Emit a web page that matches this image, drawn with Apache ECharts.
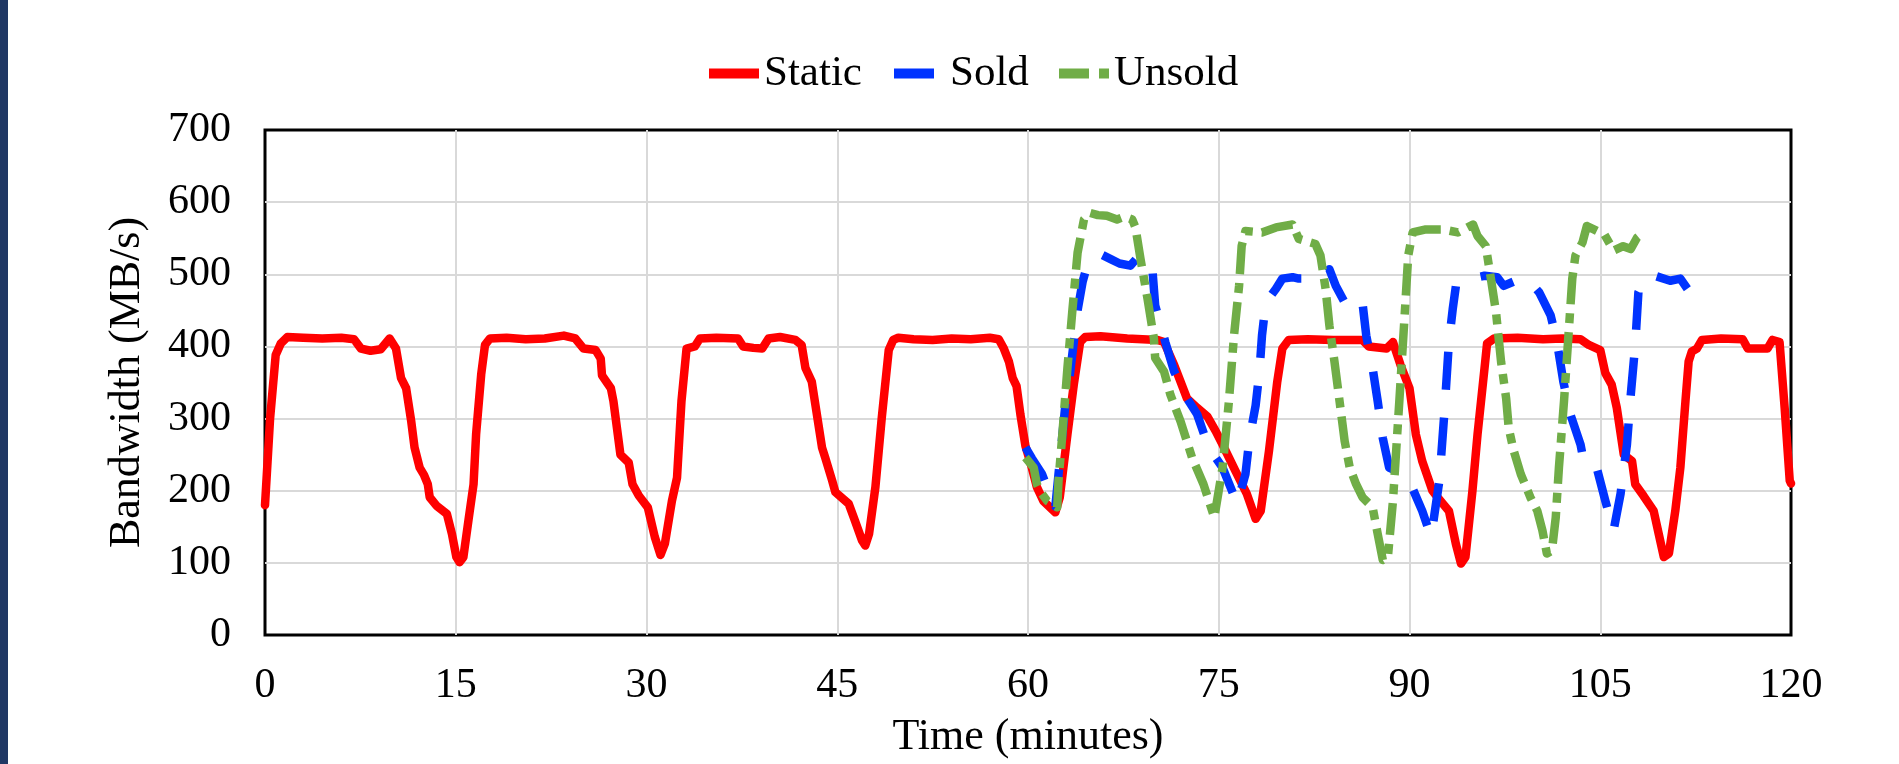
<!DOCTYPE html>
<html>
<head>
<meta charset="utf-8">
<script src="https://cdn.jsdelivr.net/npm/echarts@6/dist/echarts.min.js"></script>
<style>
  html, body { margin: 0; padding: 0; background: #fff; }
  #chart { width: 1899px; height: 764px; }
</style>
</head>
<body>
<div id="chart"></div>
<script>
// values (minutes, MB/s)
const staticTime = [0, 0.4, 0.84, 1.24, 1.76, 3, 4.5, 6, 7.0, 7.55, 8.3, 9.1, 9.8, 10.3, 10.7, 11.1, 11.5, 11.76, 12.16, 12.5, 12.8, 12.95, 13.5, 14.3, 14.7, 15.05, 15.3, 15.6, 16.0, 16.4, 16.6, 17.0, 17.3, 17.7, 19, 20.5, 22, 23.5, 24.4, 25.05, 26.0, 26.4, 26.5, 27.2, 27.4, 27.95, 28.6, 28.9, 29.4, 30.1, 30.65, 31.1, 31.45, 32.0, 32.4, 32.75, 33.15, 33.8, 34.2, 35.5, 37.2, 37.6, 38.4, 39.1, 39.6, 40.5, 41.7, 42.2, 42.5, 43.0, 43.8, 44.05, 44.6, 44.85, 45.9, 46.3, 46.95, 47.2, 47.5, 48.0, 48.5, 49.05, 49.4, 49.8, 51, 52.5, 54, 55.5, 57.0, 57.7, 58.1, 58.5, 58.8, 59.1, 59.4, 59.8, 60.3, 60.7, 61.2, 62.15, 62.5, 63.1, 63.6, 64.1, 64.5, 65.7, 67.8, 70.2, 70.7, 71.5, 72.5, 73.3, 74.1, 74.75, 75.3, 76.3, 77.2, 77.9, 78.3, 78.95, 79.6, 80.0, 80.5, 82, 84, 86.3, 86.8, 88.2, 88.7, 89.3, 90.0, 90.5, 91.0, 91.8, 92.2, 93.1, 93.65, 94.05, 94.4, 94.95, 95.35, 95.9, 96.1, 96.65, 98.5, 100.5, 102, 103.45, 104.1, 105.0, 105.4, 105.9, 106.3, 106.85, 107.5, 107.75, 108.4, 109.2, 109.6, 110.0, 110.4, 110.9, 111.3, 111.7, 111.95, 112.2, 112.6, 113.0, 114.5, 116.2, 116.6, 118.15, 118.55, 119.1, 119.5, 119.9, 120];
const staticBw = [180, 300, 388, 404, 413, 412, 411, 412, 410, 397, 394, 396, 411, 397, 356, 342, 296, 260, 232, 222, 209, 191, 179, 168, 140, 108, 101, 108, 159, 209, 278, 361, 402, 411, 412, 410, 411, 415, 411, 397, 395, 383, 360, 342, 324, 250, 239, 209, 193, 177, 136, 111, 127, 186, 218, 324, 397, 400, 411, 412, 411, 400, 398, 397, 411, 413, 409, 402, 370, 351, 260, 246, 214, 198, 182, 163, 131, 124, 140, 205, 301, 395, 409, 412, 410, 409, 411, 410, 412, 410, 397, 379, 356, 345, 306, 262, 232, 205, 186, 170, 191, 278, 347, 406, 413, 414, 411, 409, 406, 374, 328, 315, 303, 283, 264, 228, 196, 161, 172, 255, 351, 397, 409, 410, 409, 409, 400, 397, 406, 374, 342, 278, 241, 200, 191, 172, 126, 99, 108, 200, 278, 370, 404, 411, 412, 410, 411, 410, 402, 395, 363, 347, 315, 250, 241, 209, 193, 172, 140, 108, 113, 172, 232, 324, 379, 393, 397, 409, 411, 410, 397, 397, 409, 406, 315, 214, 210];

const soldTime = [59.8, 60.3, 61.1, 61.6, 62.15, 62.5, 63.0, 63.3, 63.9, 64.3, 64.65, 65.2, 65.7, 66.5, 67.2, 68.05, 68.6, 69.4, 69.8, 70.0, 70.8, 71.5, 72.5, 73.3, 74.2, 75.3, 76.45, 77.1, 77.4, 77.9, 78.2, 78.4, 78.7, 79.5, 80.0, 80.8, 81.3, 82.5, 83.2, 83.7, 84.2, 84.9, 85.5, 86.3, 86.6, 87.1, 87.5, 87.9, 88.4, 89.5, 90.1, 91.0, 91.7, 92.35, 92.75, 93.1, 93.4, 93.65, 94.3, 94.8, 95.9, 96.9, 97.4, 98.75, 99.5, 100.2, 101.1, 101.6, 102.1, 102.65, 103.45, 103.7, 104.2, 104.75, 105.4, 106.05, 106.6, 107.1, 107.4, 107.75, 108.0, 108.4, 108.95, 110.5, 111.3, 111.85];
const soldBw = [260, 245, 223, 200, 178, 241, 330, 362, 450, 490, 512, 522, 528, 521, 515, 512, 523, 521, 503, 457, 406, 365, 328, 306, 260, 232, 182, 223, 270, 318, 365, 415, 461, 480, 494, 496, 494, 494, 498, 507, 484, 461, 470, 461, 415, 370, 324, 273, 232, 223, 209, 172, 136, 214, 310, 406, 452, 484, 494, 494, 498, 496, 484, 494, 489, 475, 443, 406, 351, 306, 264, 241, 230, 230, 186, 145, 196, 264, 333, 402, 475, 489, 500, 491, 494, 480];

const unsoldTime = [59.8, 60.45, 60.7, 61.0, 61.5, 62.3, 62.4, 62.7, 63.1, 63.5, 63.9, 64.4, 64.9, 65.5, 66.2, 67.0, 67.6, 68.2, 68.45, 68.85, 69.4, 69.9, 70.0, 70.7, 71.2, 72.0, 72.9, 73.8, 74.65, 75.3, 75.8, 76.2, 76.6, 76.8, 77.1, 78.4, 79.5, 80.8, 81.3, 82.6, 83.0, 83.4, 83.7, 84.1, 84.5, 84.9, 85.3, 85.8, 86.3, 87.1, 87.5, 87.9, 88.3, 88.7, 88.95, 89.2, 89.6, 89.9, 90.25, 91.2, 92.7, 93.8, 95.0, 95.35, 96.0, 96.4, 96.8, 97.2, 97.6, 97.8, 98.2, 98.75, 99.5, 100.05, 100.45, 100.8, 101.2, 101.5, 101.75, 102.15, 102.5, 102.8, 103.05, 103.6, 103.95, 104.75, 105.3, 106.05, 106.8, 107.4, 107.9, 108.4];
const unsoldBw = [246, 232, 209, 198, 186, 177, 214, 278, 370, 452, 530, 576, 585, 582, 581, 576, 580, 576, 565, 521, 466, 411, 384, 365, 333, 296, 246, 209, 163, 232, 324, 415, 484, 539, 560, 558, 565, 569, 549, 542, 526, 480, 429, 379, 324, 269, 232, 209, 191, 177, 140, 104, 108, 186, 255, 324, 438, 526, 558, 562, 562, 558, 569, 553, 539, 494, 448, 379, 328, 287, 255, 223, 191, 172, 145, 113, 117, 163, 232, 324, 415, 494, 526, 544, 567, 560, 556, 533, 539, 535, 551, 558];

const xTicks = { min: 0, max: 120, step: 15 };
const yTicks = { min: 0, max: 700, step: 100 };

const FONT = 'Liberation Serif';

function pairs(xs, ys) {
  return xs.map((x, i) => [x, ys[i]]);
}

const chart = echarts.init(document.getElementById('chart'));

const option = {
  animation: false,
  backgroundColor: '#fff',
  textStyle: { fontFamily: FONT, color: '#000' },
  graphic: [{
    type: 'rect',
    left: 0, top: 0,
    shape: { width: 8, height: 764 },
    style: { fill: '#203864' }
  }],
  legend: [
    {
      data: ['Static'], left: 704, top: 47,
      itemWidth: 50, itemHeight: 10, icon: 'rect',
      itemStyle: { color: '#ff0000', borderWidth: 0 },
      textStyle: { fontFamily: FONT, fontSize: 43, color: '#000' }
    },
    {
      data: ['Sold'], left: 889, top: 47,
      itemWidth: 40, itemHeight: 10, icon: 'rect',
      itemStyle: { color: '#0033ff', borderWidth: 0 },
      textStyle: { fontFamily: FONT, fontSize: 43, color: '#000', padding: [0, 0, 0, 11] }
    },
    {
      data: ['Unsold'], left: 1054, top: 47,
      itemWidth: 50, itemHeight: 10,
      icon: 'path://M0,0h30v10h-30z M40,0h10v10h-10z',
      itemStyle: { color: '#70ad47', borderWidth: 0 },
      textStyle: { fontFamily: FONT, fontSize: 43, color: '#000' }
    }
  ],
  grid: {
    left: 265, right: 108, top: 130, bottom: 126,
    show: true, borderColor: '#000', borderWidth: 3,
    backgroundColor: 'transparent'
  },
  xAxis: {
    type: 'value',
    min: xTicks.min, max: xTicks.max, interval: xTicks.step,
    name: 'Time (minutes)',
    nameLocation: 'middle', nameGap: 80,
    nameTextStyle: { fontFamily: FONT, fontSize: 44, color: '#000' },
    axisLine: { show: false },
    axisTick: { show: false },
    axisLabel: { fontFamily: FONT, fontSize: 42, color: '#000', margin: 30 },
    splitLine: { show: true, showMinLine: false, showMaxLine: false, lineStyle: { color: '#d9d9d9', width: 2 } }
  },
  yAxis: {
    type: 'value',
    min: yTicks.min, max: yTicks.max, interval: yTicks.step,
    name: 'Bandwidth (MB/s)',
    nameLocation: 'middle', nameGap: 116,
    nameTextStyle: { fontFamily: FONT, fontSize: 44, color: '#000' },
    axisLine: { show: false },
    axisTick: { show: false },
    axisLabel: { fontFamily: FONT, fontSize: 42, color: '#000', margin: 34 },
    splitLine: { show: true, showMinLine: false, showMaxLine: false, lineStyle: { color: '#d9d9d9', width: 2 } }
  },
  series: [
    {
      name: 'Static', type: 'line', symbol: 'none', showSymbol: false,
      data: pairs(staticTime, staticBw),
      itemStyle: { color: '#ff0000' },
      lineStyle: { color: '#ff0000', width: 8.5, join: 'round', cap: 'round' }
    },
    {
      name: 'Sold', type: 'line', symbol: 'none', showSymbol: false,
      data: pairs(soldTime, soldBw),
      itemStyle: { color: '#0033ff' },
      lineStyle: { color: '#0033ff', width: 8.5, type: [38, 28], cap: 'butt', join: 'round' }
    },
    {
      name: 'Unsold', type: 'line', symbol: 'none', showSymbol: false,
      data: pairs(unsoldTime, unsoldBw),
      itemStyle: { color: '#70ad47' },
      lineStyle: { color: '#70ad47', width: 8.5, type: [32, 9, 10, 9], cap: 'butt', join: 'round' }
    }
  ]
};

chart.setOption(option);
</script>
</body>
</html>
